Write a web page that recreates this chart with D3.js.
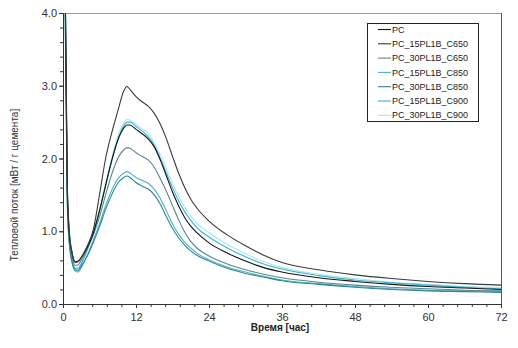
<!DOCTYPE html>
<html><head><meta charset="utf-8">
<script src="https://cdn.jsdelivr.net/npm/d3@7"></script>
<style>
body{margin:0;background:#fff;}
svg{display:block;font-family:Arial,"Liberation Sans",sans-serif;}
</style></head>
<body><svg id="c" width="518" height="348"></svg>
<script>
const times = [0.1,0.4,0.7,1,1.5,2,2.5,3,4,5,6,7,8,9,10,10.5,11,12,13,14,15,16,17,18,19,20,21,22,24,27,30,33,36,42,48,54,60,66,72];
const seriesNames = ["PC","PC_15PL1B_C650","PC_30PL1B_C650","PC_15PL1B_C850","PC_30PL1B_C850","PC_15PL1B_C900","PC_30PL1B_C900"];
const seriesColors = ["#151515","#3a3a3a","#5a858c","#4fb2c0","#2a8598","#35b6d4","#aee3ec"];
const PC = [9,4.0,1.6,1.0,0.7,0.58,0.59,0.64,0.78,0.98,1.28,1.63,1.97,2.25,2.42,2.46,2.46,2.4,2.34,2.27,2.16,1.98,1.76,1.54,1.35,1.19,1.07,0.98,0.84,0.7,0.59,0.5,0.44,0.36,0.31,0.27,0.24,0.22,0.2];
const PC_15PL1B_C650 = [9,4.2,1.7,1.05,0.7,0.57,0.58,0.64,0.8,1.03,1.5,2.0,2.35,2.65,2.93,2.99,2.95,2.85,2.78,2.72,2.62,2.47,2.27,2.03,1.8,1.6,1.44,1.32,1.14,0.95,0.8,0.67,0.57,0.47,0.4,0.35,0.31,0.28,0.26];
const PC_30PL1B_C650 = [9,4.0,1.6,0.98,0.65,0.53,0.54,0.6,0.76,0.95,1.2,1.5,1.78,2.0,2.12,2.15,2.14,2.08,2.03,1.98,1.88,1.72,1.55,1.35,1.16,0.99,0.86,0.77,0.66,0.55,0.47,0.41,0.36,0.3,0.26,0.23,0.21,0.19,0.18];
const PC_15PL1B_C850 = [9,3.6,1.4,0.85,0.56,0.45,0.44,0.5,0.67,0.88,1.1,1.35,1.56,1.72,1.8,1.82,1.8,1.74,1.7,1.66,1.58,1.45,1.28,1.1,0.96,0.85,0.77,0.7,0.61,0.51,0.44,0.38,0.33,0.28,0.24,0.21,0.19,0.18,0.17];
const PC_30PL1B_C850 = [9,3.7,1.45,0.88,0.58,0.47,0.46,0.52,0.66,0.85,1.06,1.3,1.5,1.66,1.74,1.76,1.74,1.67,1.62,1.58,1.5,1.37,1.2,1.04,0.91,0.81,0.73,0.67,0.59,0.49,0.42,0.37,0.32,0.27,0.23,0.2,0.18,0.17,0.16];
const PC_15PL1B_C900 = [9,3.8,1.5,0.92,0.6,0.49,0.48,0.55,0.74,0.98,1.28,1.62,1.96,2.25,2.45,2.5,2.5,2.44,2.38,2.3,2.18,2.0,1.8,1.6,1.42,1.27,1.15,1.05,0.92,0.77,0.65,0.55,0.48,0.39,0.33,0.29,0.26,0.23,0.21];
const PC_30PL1B_C900 = [9,3.9,1.55,0.95,0.62,0.5,0.5,0.57,0.76,1.0,1.3,1.65,2.0,2.3,2.49,2.54,2.53,2.47,2.41,2.34,2.22,2.05,1.86,1.66,1.48,1.33,1.21,1.11,0.98,0.82,0.69,0.58,0.5,0.41,0.35,0.3,0.27,0.24,0.23];
const seriesValues = [PC,PC_15PL1B_C650,PC_30PL1B_C650,PC_15PL1B_C850,PC_30PL1B_C850,PC_15PL1B_C900,PC_30PL1B_C900];
const xTicks = [0,12,24,36,48,60,72];
const yTicks = [0,1,2,3,4];
const xLabel = "Время [час]";
const yLabel = "Тепловой поток [мВт / г цемента]";

const svg = d3.select("#c");
const L=63,R=501,T=13,B=304;
const x = d3.scaleLinear().domain([0,72]).range([L,R]);
const y = d3.scaleLinear().domain([0,4]).range([B,T]);

svg.append("defs").append("clipPath").attr("id","clip")
  .append("rect").attr("x",L).attr("y",T).attr("width",R-L).attr("height",B-T);

// frame
svg.append("line").attr("x1",L).attr("x2",R).attr("y1",T+0.5).attr("y2",T+0.5).attr("stroke","#9a9a9a");
svg.append("line").attr("x1",R+0.5).attr("x2",R+0.5).attr("y1",T).attr("y2",B).attr("stroke","#555");

const line = d3.line().x((d,i)=>x(times[i])).y(d=>y(d)).curve(d3.curveMonotoneX);
const g = svg.append("g").attr("clip-path","url(#clip)");
const order=[6,5,3,4,2,0,1];
order.forEach(k=>{
  g.append("path").attr("d",line(seriesValues[k])).attr("fill","none")
   .attr("stroke",seriesColors[k]).attr("stroke-width",1.1);
});

// axes
const fs = "11px";
const xAxis = svg.append("g").attr("transform",`translate(0,${B})`)
  .call(d3.axisBottom(x).tickValues(xTicks).tickSize(4).tickFormat(d3.format("d")));
const xMinor = svg.append("g").attr("transform",`translate(0,${B})`)
  .call(d3.axisBottom(x).tickValues(d3.range(0,72.01,2.4)).tickSize(3).tickFormat(""));
const yAxis = svg.append("g").attr("transform",`translate(${L},0)`)
  .call(d3.axisLeft(y).tickValues(yTicks).tickSize(4).tickFormat(d3.format(".1f")));
const yMinor = svg.append("g").attr("transform",`translate(${L},0)`)
  .call(d3.axisLeft(y).tickValues(d3.range(0,4.01,0.2)).tickSize(3).tickFormat(""));
[xAxis,xMinor,yAxis,yMinor].forEach(a=>{
  a.selectAll(".domain").attr("stroke","#333");
  a.selectAll("line").attr("stroke","#333");
  a.selectAll("text").attr("fill","#333").style("font-size",fs).style("font-family","Arial, 'Liberation Sans', sans-serif");
});
xAxis.selectAll("text").attr("dy","0.9em");
yAxis.selectAll("text").attr("x",-6);

svg.append("text").attr("x",(L+R)/2-2).attr("y",331).attr("text-anchor","middle")
  .style("font-size","10px").style("font-weight","bold").attr("fill","#222").text(xLabel);
svg.append("text").attr("transform","translate(18,185) rotate(-90)").attr("text-anchor","middle")
  .style("font-size","10px").attr("fill","#333").text(yLabel);

// legend
const lg = svg.append("g");
lg.append("rect").attr("x",367.5).attr("y",23.5).attr("width",111).attr("height",98)
  .attr("fill","#fff").attr("stroke","#222");
seriesNames.forEach((n,i)=>{
  const yy = 29.5 + i*14.3;
  lg.append("line").attr("x1",378).attr("x2",391).attr("y1",yy).attr("y2",yy)
    .attr("stroke",seriesColors[i]).attr("stroke-width",1.1);
  lg.append("text").attr("x",392).attr("y",yy).attr("dy","0.35em")
    .style("font-size","9px").attr("fill","#222").text(n);
});
</script></body></html>
